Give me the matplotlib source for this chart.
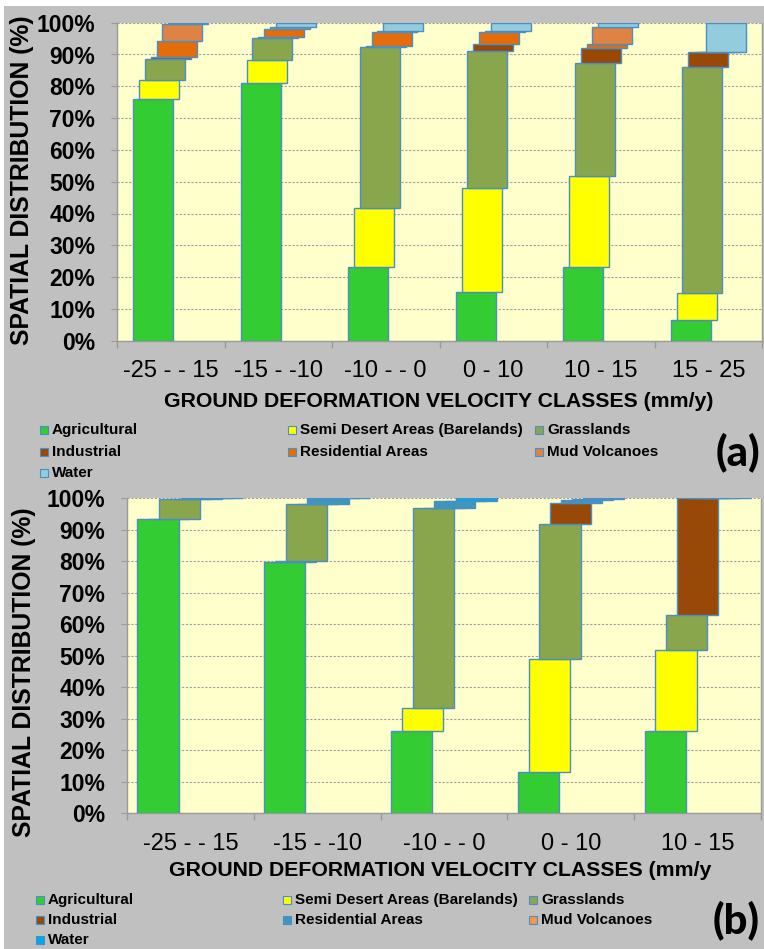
import matplotlib
matplotlib.use("Agg")
import matplotlib.pyplot as plt
from matplotlib.patches import Rectangle
import numpy as np

W, H, DPI = 764, 949, 100

# ---------------------------------------------------------------- data
land_cover = ["Agricultural", "Semi Desert Areas (Barelands)", "Grasslands",
              "Industrial", "Residential Areas", "Mud Volcanoes", "Water"]

# panel (a)
classes_a = ["-25 - - 15", "-15 - -10", "-10 - - 0", "0 - 10", "10 - 15", "15 - 25"]
agri_a = [76.1, 81.0, 23.3, 15.2, 23.3, 6.5]
semi_a = [5.9, 7.2, 18.3, 32.9, 28.6, 8.4]
grass_a = [6.6, 7.1, 50.7, 43.0, 35.3, 71.1]
ind_a = [0.6, 0.3, 0.4, 2.1, 4.7, 4.8]
res_a = [5.0, 2.3, 4.3, 4.0, 1.3, 0.0]
mud_a = [5.3, 0.8, 0.3, 0.3, 5.55, 0.0]
water_a = [0.5, 1.3, 2.7, 2.5, 1.25, 9.2]

# panel (b)
classes_b = ["-25 - - 15", "-15 - -10", "-10 - - 0", "0 - 10", "10 - 15"]
agri_b = [93.4, 79.9, 26.2, 13.0, 26.0]
semi_b = [0.0, 0.2, 7.3, 36.0, 25.8]
grass_b = [6.4, 18.1, 63.3, 42.7, 11.2]
ind_b = [0.0, 0.0, 0.1, 6.9, 37.0]
res_b = [0.2, 1.8, 2.1, 0.9, 0.0]
mud_b = [0.0, 0.0, 0.1, 0.2, 0.0]
water_b = [0.0, 0.0, 0.9, 0.3, 0.0]

y_ticks = list(range(0, 101, 10))

# ---------------------------------------------------------------- style
colors_a = ["#33cc33", "#ffff00", "#8aa64c", "#984807", "#e46c0a", "#de8344", "#93cddd"]
colors_b = ["#33cc33", "#ffff00", "#8aa64c", "#984807", "#3f96bd", "#f79646", "#00a8ec"]
EDGE = "#4a8fc4"
BG = "#c0c0c0"
PLOT_BG = "#ffffcc"
AXIS_GRAY = "#9a9a9a"
SANS = ["Liberation Sans", "DejaVu Sans"]

plt.rcParams["font.family"] = SANS

fig = plt.figure(figsize=(W / DPI, H / DPI), dpi=DPI, facecolor="white")
fig.patches.append(Rectangle((4 / W, 0), 1, (H - 6) / H, transform=fig.transFigure,
                             facecolor=BG, edgecolor="none", zorder=-5))


def fx(px):
    return px / W


def fy(py):
    return 1 - py / H


def axes_px(left, top, right, bottom):
    return fig.add_axes([fx(left), fy(bottom), (right - left) / W, (bottom - top) / H])


def draw_panel(ax, classes, values, colors, width, step):
    x = np.arange(len(classes))
    base = np.zeros(len(classes))
    n = len(values)
    for k, (vals, col) in enumerate(zip(values, colors)):
        vals = np.asarray(vals, dtype=float)
        ax.bar(x + (k - (n - 1) / 2) * step, vals, width, bottom=base,
               color=col, edgecolor=EDGE, linewidth=1.0, zorder=3)
        base = base + vals

    ax.set_facecolor(PLOT_BG)
    ax.set_xlim(-0.5, len(classes) - 0.5)
    ax.set_ylim(0, 100)
    ax.set_yticks(y_ticks)
    ax.set_yticklabels([f"{v}%" for v in y_ticks], fontsize=16.5, fontweight="bold")
    ax.set_xticks(x)
    ax.set_xticklabels(classes, fontsize=17)
    ax.set_xticks(np.arange(len(classes) + 1) - 0.5, minor=True)
    ax.tick_params(axis="x", which="major", length=0, pad=14)
    ax.tick_params(axis="x", which="minor", length=5, width=1, color=AXIS_GRAY)
    ax.tick_params(axis="y", length=4.3, width=0.8, color=AXIS_GRAY, pad=11.5)
    ax.yaxis.grid(True, color="#9f9f9f", linestyle=(0, (2, 1.5)), linewidth=0.8, zorder=1)
    ax.set_axisbelow(True)
    ax.spines["top"].set_visible(False)
    for s in ("left", "bottom", "right"):
        ax.spines[s].set_color(AXIS_GRAY)
        ax.spines[s].set_linewidth(1.0)


def draw_legend(colors, col_x, row_y):
    for i, (name, col) in enumerate(zip(land_cover, colors)):
        x0 = col_x[i % 3]
        y0 = row_y[i // 3]
        fig.patches.append(Rectangle((fx(x0), fy(y0 + 4)), 8 / W, 8 / H,
                                     transform=fig.transFigure, facecolor=col,
                                     edgecolor=EDGE, linewidth=0.8))
        fig.text(fx(x0 + 12), fy(y0), name, fontsize=11, fontweight="bold",
                 ha="left", va="center")


# ---------------------------------------------------------------- panel (a)
ax_a = axes_px(117, 22.7, 762, 340.7)
draw_panel(ax_a, classes_a, [agri_a, semi_a, grass_a, ind_a, res_a, mud_a, water_a],
           colors_a, width=0.372, step=0.054)
fig.text(fx(22), fy(180), "SPATIAL DISTRIBUTION (%)", rotation=90, ha="center",
         va="center", fontsize=17.8, fontweight="bold")
fig.text(fx(439), fy(402), "GROUND DEFORMATION VELOCITY CLASSES (mm/y)", ha="center",
         va="center", fontsize=15.3, fontweight="bold")
draw_legend(colors_a, [40, 288, 535], [430, 452, 473])
fig.text(fx(760), fy(452), "(a)", ha="right", va="center", fontsize=30,
         fontweight="black", family=["Lato", "DejaVu Sans"])

# ---------------------------------------------------------------- panel (b)
ax_b = axes_px(127, 498.3, 761, 813.3)
draw_panel(ax_b, classes_b, [agri_b, semi_b, grass_b, ind_b, res_b, mud_b, water_b],
           colors_b, width=0.325, step=0.085)
fig.text(fx(24), fy(672), "SPATIAL DISTRIBUTION (%)", rotation=90, ha="center",
         va="center", fontsize=17.8, fontweight="bold")
fig.text(fx(440), fy(870), "GROUND DEFORMATION VELOCITY CLASSES (mm/y", ha="center",
         va="center", fontsize=15.3, fontweight="bold")
draw_legend(colors_b, [36, 283, 529], [900, 920, 940])
fig.text(fx(760), fy(920), "(b)", ha="right", va="center", fontsize=30,
         fontweight="black", family=["Lato", "DejaVu Sans"])

fig.savefig("out.png", dpi=DPI, facecolor=fig.get_facecolor())
